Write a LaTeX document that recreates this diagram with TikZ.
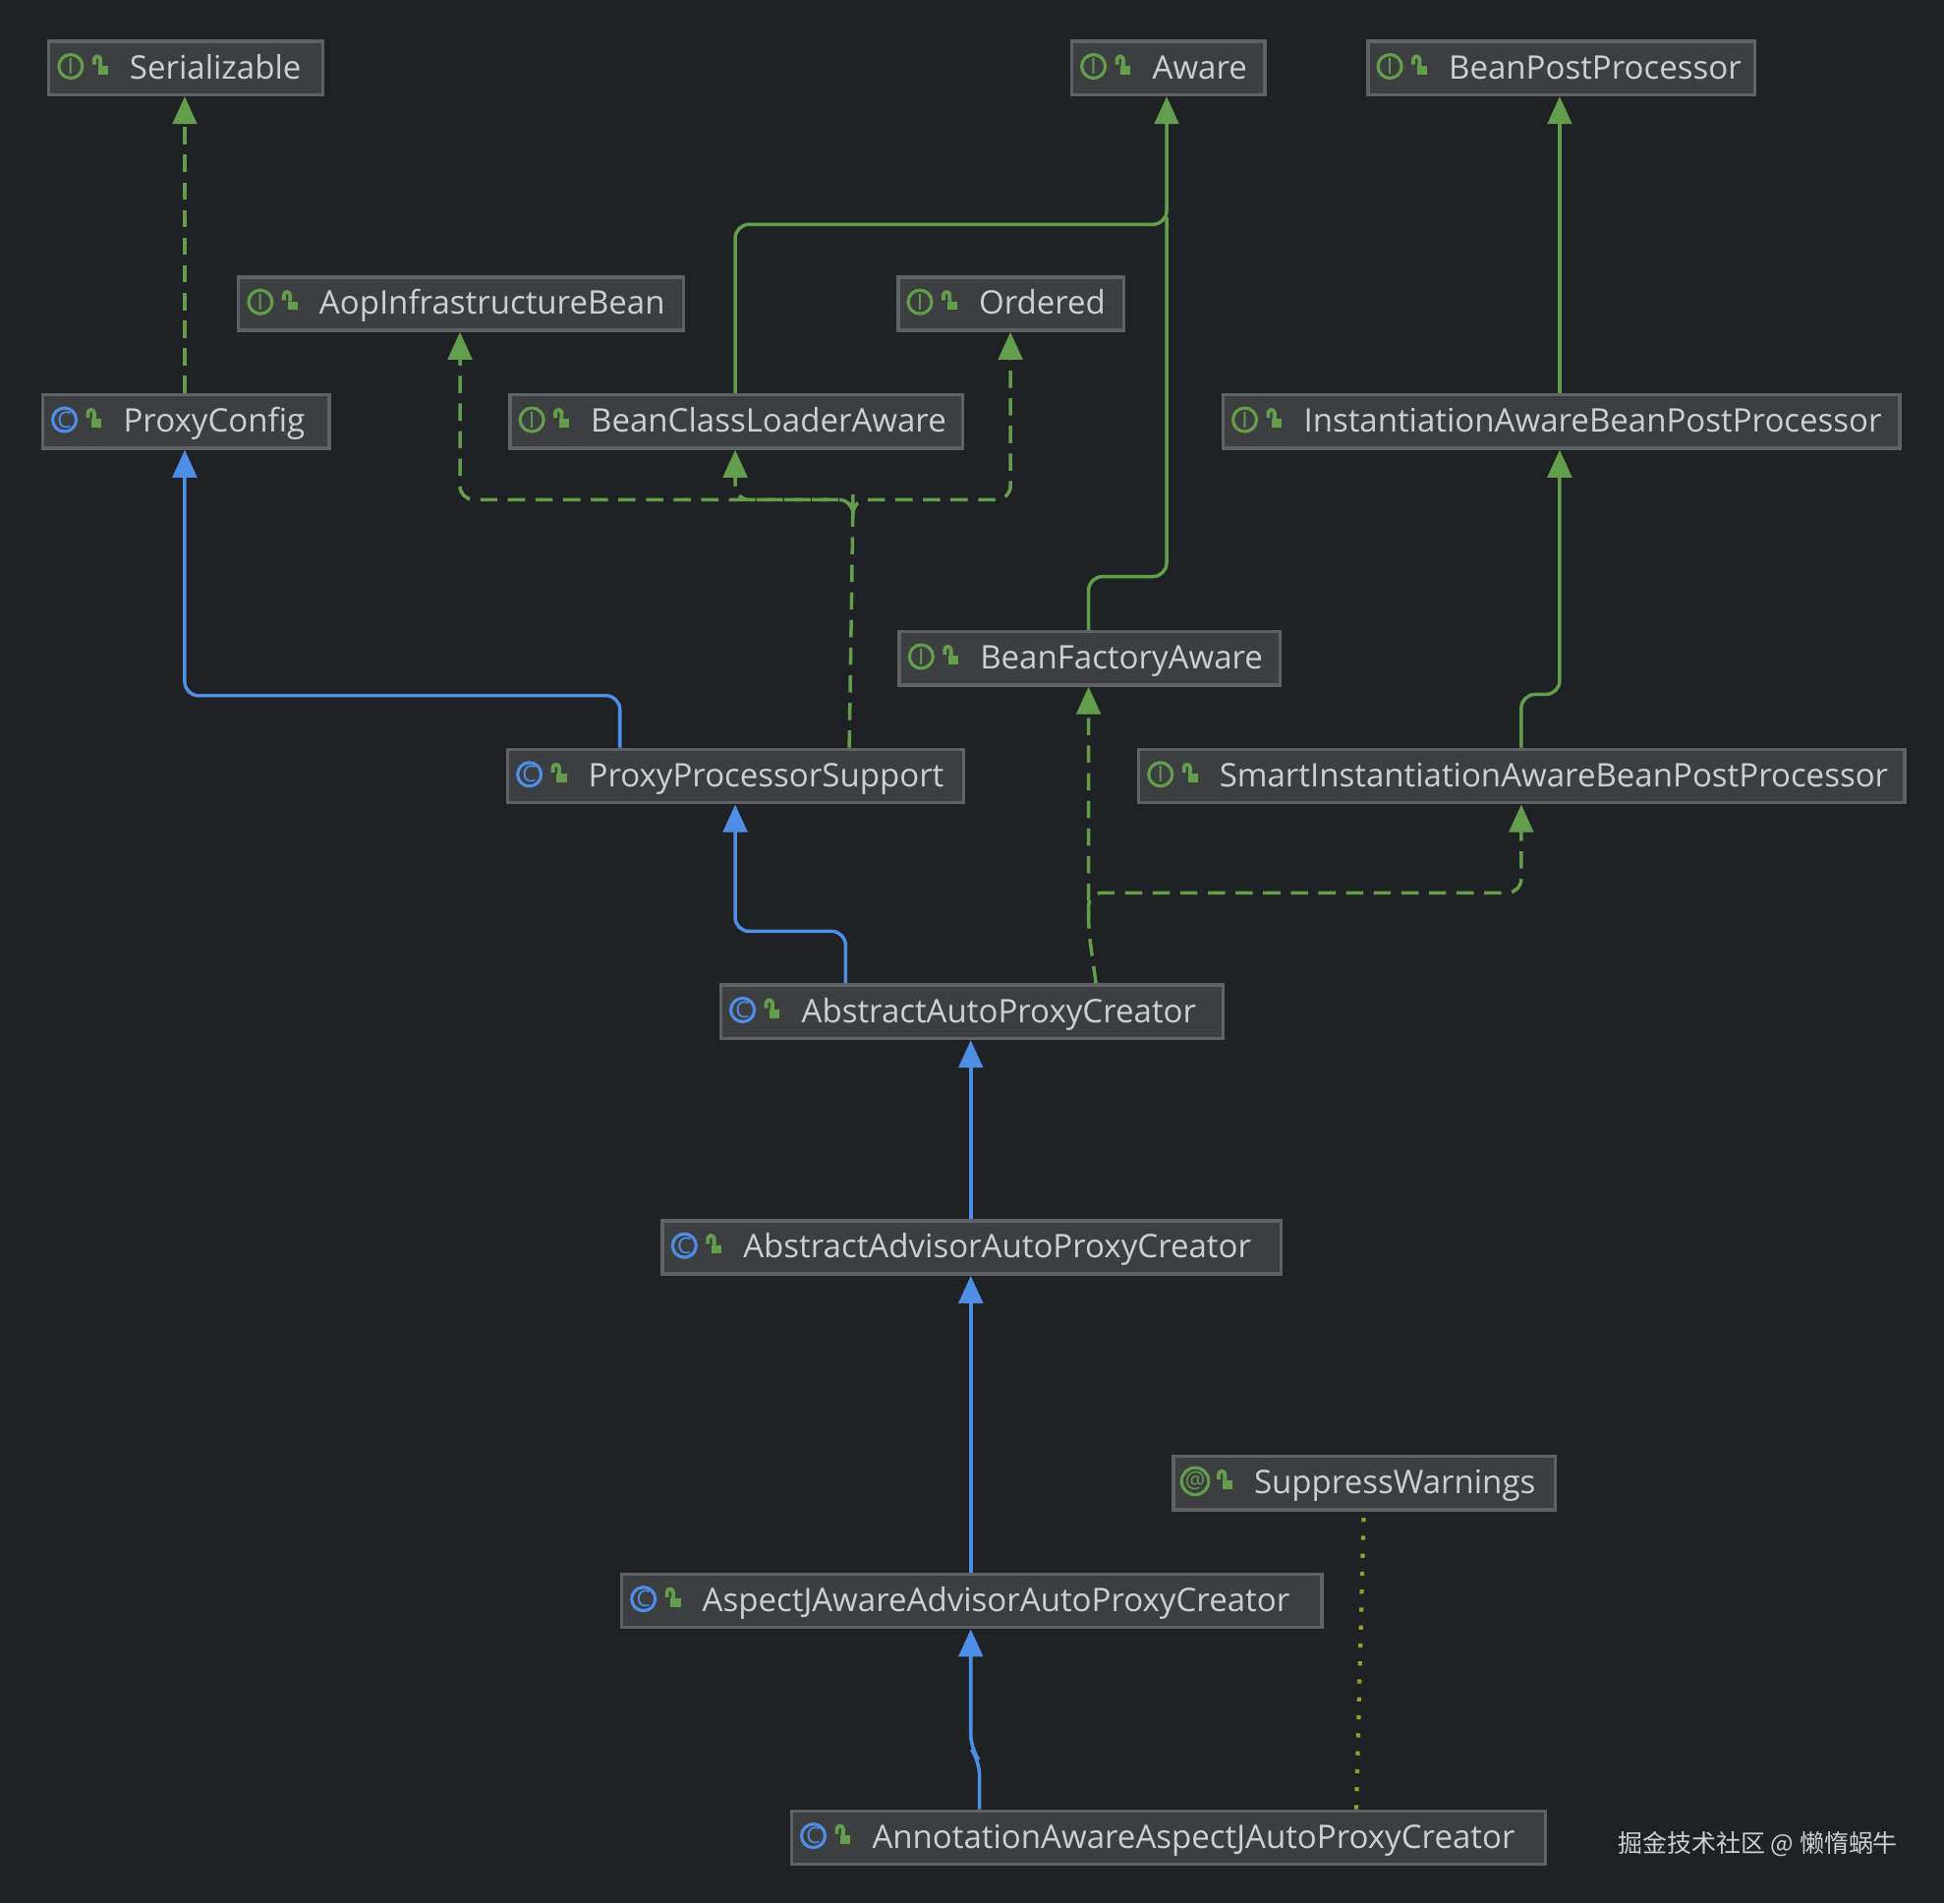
\documentclass[tikz,border=0pt]{standalone}
\usepackage{fontspec}
\setmainfont{Open Sans}
\newfontfamily\cjk{Noto Sans CJK SC}
\usetikzlibrary{arrows.meta}
\definecolor{bg}{RGB}{31,33,36}
\definecolor{boxfill}{RGB}{60,62,64}
\definecolor{boxline}{RGB}{95,97,99}
\definecolor{txt}{RGB}{205,207,210}
\definecolor{grn}{RGB}{98,158,76}
\definecolor{blu}{RGB}{78,142,230}
\definecolor{olv}{RGB}{150,160,40}
\tikzset{
  box/.style={draw=boxline, fill=boxfill, line width=1pt, anchor=north west,
    minimum height=43*0.012615cm, inner sep=0pt},
  lbl/.style={text=txt, anchor=base west, inner sep=0pt, font=\fontsize{9.4}{12}\selectfont},
  impl/.style={grn, line width=1pt, dash pattern=on 5pt off 3pt, rounded corners=4pt, -{Triangle[width=7pt,length=8pt]}},
  ext/.style={grn, line width=1pt, rounded corners=4pt, -{Triangle[width=7pt,length=8pt]}},
  sub/.style={blu, line width=1pt, rounded corners=4pt, -{Triangle[width=7pt,length=8pt]}},
}
% \umlbox{name}{left}{top}{right}{icon colour}{icon letter}{text}
\newcommand\umlbox[7]{%
  \node[box, minimum width={(#4-#2)*0.012615cm}] (#1) at (#2,#3) {};
  \node[circle, draw=#5, line width=0.9pt, inner sep=0pt, minimum size=19*0.012615cm,
    text=#5, font=\fontsize{6.5}{7}\selectfont] (#1i) at (#2+19,#3+21.5) {#6};
  \fill[grn] (#2+41,#3+21) rectangle (#2+49,#3+28);
  \draw[grn, line width=1.1pt] (#2+38,#3+20) -- (#2+38,#3+16) arc[start angle=180, end angle=360, radius=2.5] -- (#2+43,#3+21);
  \node[lbl] (#1t) at (#2+66,#3+31.5) {#7};
}
\begin{document}
\begin{tikzpicture}[x=0.012615cm, y=-0.012615cm]
  \fill[bg] (0,0) rectangle (1568,1535);
  \useasboundingbox (0,0) rectangle (1568,1535);

  \umlbox{ser}{38}{32}{259}{grn}{I}{Serializable}
  \umlbox{aw}{863}{32}{1019}{grn}{I}{Aware}
  \umlbox{bpp}{1102}{32}{1414}{grn}{I}{BeanPostProcessor}
  \umlbox{aib}{191}{222}{550}{grn}{I}{AopInfrastructureBean}
  \umlbox{ord}{723}{222}{905}{grn}{I}{Ordered}
  \umlbox{pc}{33}{317}{264}{blu}{C}{ProxyConfig}
  \umlbox{bcla}{410}{317}{775}{grn}{I}{BeanClassLoaderAware}
  \umlbox{iabpp}{985}{317}{1531}{grn}{I}{InstantiationAwareBeanPostProcessor}
  \umlbox{bfa}{724}{508}{1031}{grn}{I}{BeanFactoryAware}
  \umlbox{pps}{408}{603}{776}{blu}{C}{ProxyProcessorSupport}
  \umlbox{siabpp}{917}{603}{1535}{grn}{I}{SmartInstantiationAwareBeanPostProcessor}
  \umlbox{aapc}{580}{793}{985}{blu}{C}{AbstractAutoProxyCreator}
  \umlbox{aaapc}{533}{983}{1032}{blu}{C}{AbstractAdvisorAutoProxyCreator}
  \umlbox{sw}{945}{1173}{1253}{grn}{@}{SuppressWarnings}
  \umlbox{ajaapc}{500}{1268}{1065}{blu}{C}{AspectJAwareAdvisorAutoProxyCreator}
  \umlbox{aaajapc}{637}{1459}{1245}{blu}{C}{AnnotationAwareAspectJAutoProxyCreator}
  \node[text=txt, font=\cjk\fontsize{7.1}{9}\selectfont, inner sep=0pt] (mark) at (1418,1487) {掘金技术社区 @ 懒惰蜗牛};

  % interfaces
  \draw[impl] (pc.north -| 149,0) -- (ser.south -| 149,0);
  \draw[ext] (bcla.north -| 593,0) |- (941,181) -- (aw.south -| 941,0);
  \draw[grn, line width=1pt, rounded corners=4pt] (bfa.north -| 878,0) |- (941,465) -- (941,175);
  \draw[ext] (iabpp.north -| 1258,0) -- (bpp.south -| 1258,0);
  \draw[ext] (siabpp.north -| 1227,0) |- (1258,560) -- (iabpp.south -| 1258,0);
  \draw[impl] (pps.north -| 685,0) -- (688,410) -- (688,403) -| (aib.south -| 371,0);
  \draw[impl] (688,410) -- (688,403) -| (bcla.south -| 593,0);
  \draw[impl] (688,410) -- (688,403) -| (ord.south -| 815,0);
  \draw[impl] (aapc.north -| 884,0) -- (878,750) -- (bfa.south -| 878,0);
  \draw[impl] (878,740) -- (878,720) -| (siabpp.south -| 1227,0);
  \draw[olv, line width=1.2pt, dash pattern=on 1.2pt off 4pt] (aaajapc.north -| 1094,0) -- (sw.south -| 1100,0);

  % classes
  \draw[sub] (pps.north -| 500,0) |- (149,561) -- (pc.south -| 149,0);
  \draw[sub] (aapc.north -| 682,0) |- (593,751) -- (pps.south -| 593,0);
  \draw[sub] (aaapc.north -| 783,0) -- (aapc.south -| 783,0);
  \draw[sub] (ajaapc.north -| 783,0) -- (aaapc.south -| 783,0);
  \draw[sub] (aaajapc.north -| 790,0) -- (790,1420) -- (783,1410) -- (ajaapc.south -| 783,0);
\end{tikzpicture}
\end{document}
